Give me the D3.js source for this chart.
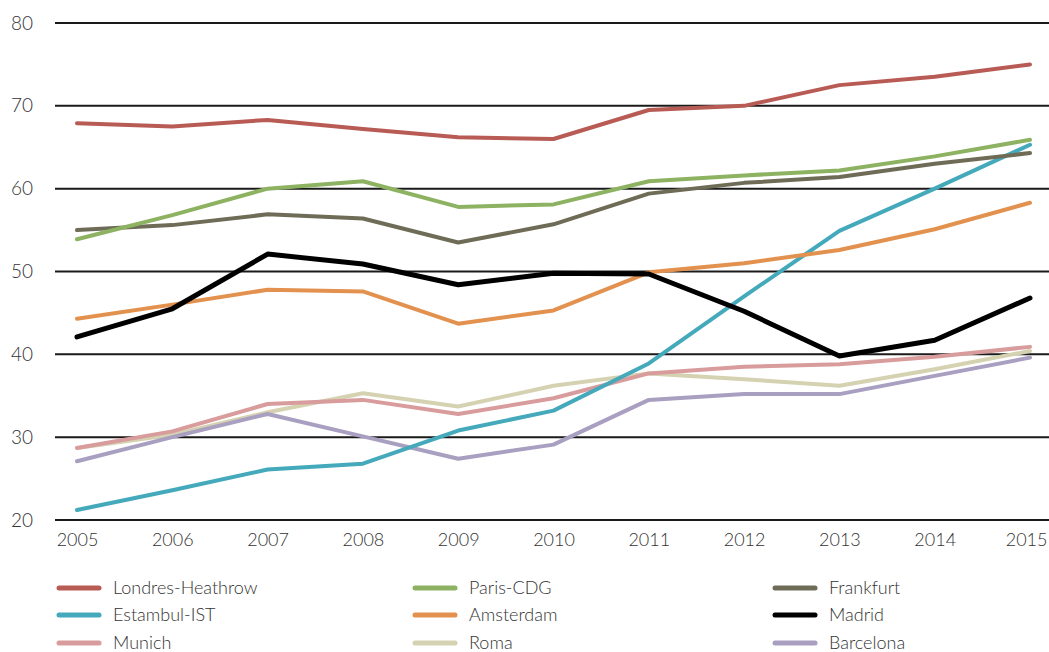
<!DOCTYPE html>
<meta charset="utf-8">
<style>
  body {
    margin: 0;
    background: #fff;
  }
  text {
    font-family: Lato, "Open Sans", sans-serif;
    font-weight: 300;
    fill: #333;
  }
  .grid line {
    stroke: #1a1a1a;
    stroke-width: 2px;
  }
  .series {
    fill: none;
    stroke-linecap: round;
    stroke-linejoin: round;
  }
</style>
<body>
  <div id="chart"></div>
  <script src="https://d3js.org/d3.v7.min.js"></script>
  <script>
    var years = [2005, 2006, 2007, 2008, 2009, 2010, 2011, 2012, 2013, 2014, 2015];
    var yTicks = [20, 30, 40, 50, 60, 70, 80];

    var names = ["Londres-Heathrow", "Paris-CDG", "Frankfurt",
                 "Estambul-IST", "Amsterdam", "Madrid",
                 "Munich", "Roma", "Barcelona"];

    var londres   = [67.9, 67.5, 68.3, 67.2, 66.2, 66.0, 69.5, 70.0, 72.5, 73.5, 75.0];
    var paris     = [53.9, 56.8, 60.0, 60.9, 57.8, 58.1, 60.9, 61.6, 62.2, 63.9, 65.9];
    var frankfurt = [55.0, 55.6, 56.9, 56.4, 53.5, 55.7, 59.4, 60.7, 61.4, 63.0, 64.3];
    var estambul  = [21.2, 23.6, 26.1, 26.8, 30.8, 33.2, 38.9, 47.0, 54.9, 60.0, 65.3];
    var amsterdam = [44.3, 46.0, 47.8, 47.6, 43.7, 45.3, 49.9, 51.0, 52.6, 55.1, 58.3];
    var madrid    = [42.1, 45.5, 52.1, 50.9, 48.4, 49.8, 49.7, 45.2, 39.8, 41.7, 46.8];
    var munich    = [28.7, 30.7, 34.0, 34.5, 32.8, 34.7, 37.7, 38.5, 38.8, 39.7, 40.9];
    var roma      = [28.7, 30.3, 33.0, 35.3, 33.7, 36.2, 37.7, 37.0, 36.2, 38.2, 40.4];
    var barcelona = [27.1, 30.0, 32.8, 30.1, 27.4, 29.1, 34.5, 35.2, 35.2, 37.4, 39.6];

    var values = [londres, paris, frankfurt, estambul, amsterdam, madrid, munich, roma, barcelona];
    var colors = ["#b85b55", "#8db262", "#6e6c56", "#44a9bb", "#e3914e", "#000000",
                  "#d99c9c", "#d5d2b2", "#a99fc0"];

    var W = 1049, H = 652;

    var svg = d3.select("#chart").append("svg")
      .attr("width", W)
      .attr("height", H);

    var x = d3.scalePoint()
      .domain(years)
      .range([77, 1030]);

    var y = d3.scaleLinear()
      .domain([20, 80])
      .range([520, 23]);

    // horizontal grid
    var grid = svg.append("g").attr("class", "grid");
    grid.selectAll("line")
      .data(yTicks)
      .enter().append("line")
      .attr("x1", 55)
      .attr("x2", W)
      .attr("y1", function (d) { return y(d); })
      .attr("y2", function (d) { return y(d); });

    // y axis labels
    var yAxis = d3.axisLeft(y).tickValues(yTicks).tickSize(0).tickPadding(0);
    svg.append("g")
      .attr("transform", "translate(33,0)")
      .call(yAxis)
      .call(function (g) { g.select(".domain").remove(); })
      .selectAll("text")
      .style("font-size", "19px")
      .style("font-family", "Lato, 'Open Sans', sans-serif");

    // x axis labels
    var xAxis = d3.axisBottom(x).tickSize(0).tickPadding(0);
    var xg = svg.append("g")
      .attr("transform", "translate(0,533)")
      .call(xAxis)
      .call(function (g) { g.select(".domain").remove(); });
    xg.selectAll("text")
      .style("font-size", "18px")
      .style("font-family", "Lato, 'Open Sans', sans-serif");
    // last label kept inside the frame
    xg.selectAll(".tick").filter(function (d) { return d === 2015; })
      .select("text")
      .attr("text-anchor", "end")
      .attr("x", 17);

    var line = d3.line()
      .x(function (d, i) { return x(years[i]); })
      .y(function (d) { return y(d); });

    // draw order: bottom lines first
    var order = [7, 8, 6, 3, 4, 2, 1, 0, 5];
    svg.append("g")
      .selectAll("path")
      .data(order)
      .enter().append("path")
      .attr("class", "series")
      .attr("d", function (k) { return line(values[k]); })
      .attr("stroke", function (k) { return colors[k]; })
      .attr("stroke-width", function (k) { return k === 5 ? 5 : 4; });

    // legend
    var legX = [57, 413, 773];
    var legY = [588, 615, 643];
    var leg = svg.append("g")
      .selectAll("g")
      .data(names)
      .enter().append("g")
      .attr("transform", function (d, i) {
        return "translate(" + legX[i % 3] + "," + legY[Math.floor(i / 3)] + ")";
      });

    leg.append("line")
      .attr("x1", 2)
      .attr("x2", 42)
      .attr("stroke", function (d, i) { return colors[i]; })
      .attr("stroke-width", 5)
      .attr("stroke-linecap", "round");

    leg.append("text")
      .attr("x", 56)
      .attr("dy", "0.35em")
      .style("font-size", "18px")
      .text(function (d) { return d; });
  </script>
</body>
